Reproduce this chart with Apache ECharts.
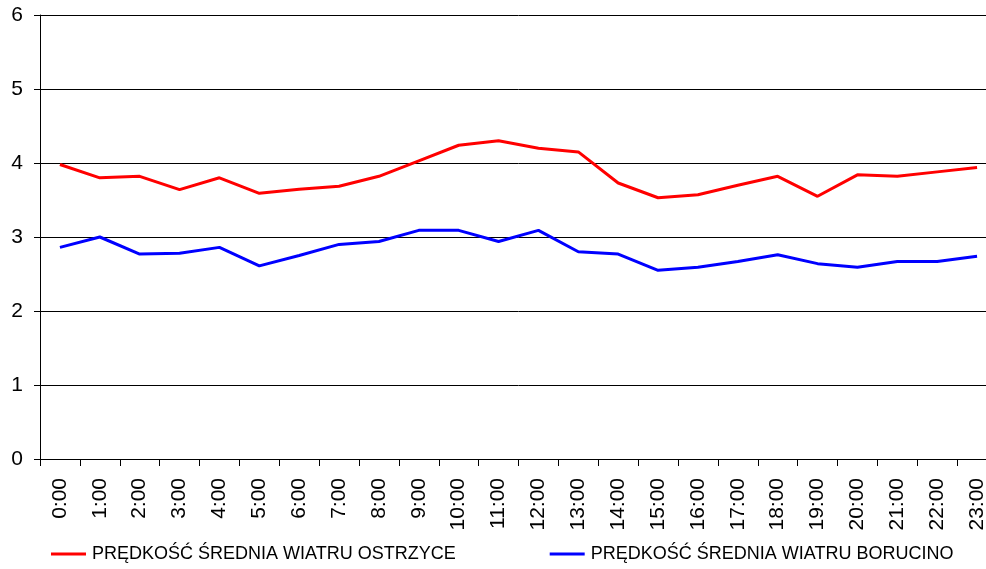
<!DOCTYPE html>
<html>
<head>
<meta charset="utf-8">
<script src="https://cdn.jsdelivr.net/npm/echarts@6/dist/echarts.min.js"></script>
<style>
  html, body { margin: 0; padding: 0; background: #fff; overflow: hidden; }
  /* the plot runs a little past the right edge of the window, as in the original */
  #container { width: 1000px; height: 569px; }
</style>
</head>
<body>
<div id="container"></div>
<script>
var hours = ['0:00', '1:00', '2:00', '3:00', '4:00', '5:00', '6:00', '7:00', '8:00', '9:00', '10:00', '11:00',
    '12:00', '13:00', '14:00', '15:00', '16:00', '17:00', '18:00', '19:00', '20:00', '21:00', '22:00', '23:00'];

// prędkość średnia wiatru [m/s]
var ostrzyce = [3.98, 3.80, 3.82, 3.64, 3.80, 3.59, 3.645, 3.685, 3.82, 4.03, 4.24, 4.30,
    4.20, 4.15, 3.73, 3.53, 3.57, 3.70, 3.82, 3.55, 3.84, 3.82, 3.88, 3.94];
var borucino = [2.86, 3.00, 2.77, 2.78, 2.86, 2.61, 2.75, 2.90, 2.94, 3.09, 3.09, 2.94,
    3.09, 2.80, 2.77, 2.55, 2.59, 2.67, 2.76, 2.64, 2.59, 2.67, 2.67, 2.74];

var seriesNames = ['PRĘDKOŚĆ ŚREDNIA WIATRU OSTRZYCE', 'PRĘDKOŚĆ ŚREDNIA WIATRU BORUCINO'];
var yTicks = { min: 0, max: 6, step: 1 };

var font = "'Liberation Sans', Arial, sans-serif";
var myChart = echarts.init(document.getElementById('container'), null, { renderer: 'canvas' });

myChart.setOption({
    animation: false,
    backgroundColor: '#fff',
    textStyle: { fontFamily: font },
    grid: { left: 40, top: 15, width: 957, height: 444, containLabel: false },
    legend: {
        left: 51,
        top: 545,
        padding: 0,
        itemGap: 94,
        itemWidth: 35,
        itemHeight: 3,
        icon: 'rect',
        textStyle: { fontFamily: font, fontSize: 18, color: '#000', padding: [0, 0, 0, 1] },
        data: seriesNames
    },
    xAxis: {
        type: 'category',
        data: hours,
        boundaryGap: true,
        axisLine: { lineStyle: { color: '#000', width: 1 } },
        axisTick: { show: true, length: 7, lineStyle: { color: '#000' } },
        axisLabel: { rotate: 90, margin: 19, fontSize: 21, color: '#000', fontFamily: font, interval: 0 },
        splitLine: { show: false }
    },
    yAxis: {
        type: 'value',
        min: yTicks.min,
        max: yTicks.max,
        interval: yTicks.step,
        axisLine: { show: true, lineStyle: { color: '#000', width: 1 } },
        axisTick: { show: true, length: 6, lineStyle: { color: '#000' } },
        axisLabel: { margin: 17, fontSize: 21, color: '#000', fontFamily: font },
        splitLine: { show: true, lineStyle: { color: '#000', width: 1 } }
    },
    series: [
        {
            name: seriesNames[0],
            type: 'line',
            data: ostrzyce,
            showSymbol: false,
            symbol: 'none',
            itemStyle: { color: '#ff0000' },
            lineStyle: { color: '#ff0000', width: 3 }
        },
        {
            name: seriesNames[1],
            type: 'line',
            data: borucino,
            showSymbol: false,
            symbol: 'none',
            itemStyle: { color: '#0000ff' },
            lineStyle: { color: '#0000ff', width: 3 }
        }
    ]
});
</script>
</body>
</html>
